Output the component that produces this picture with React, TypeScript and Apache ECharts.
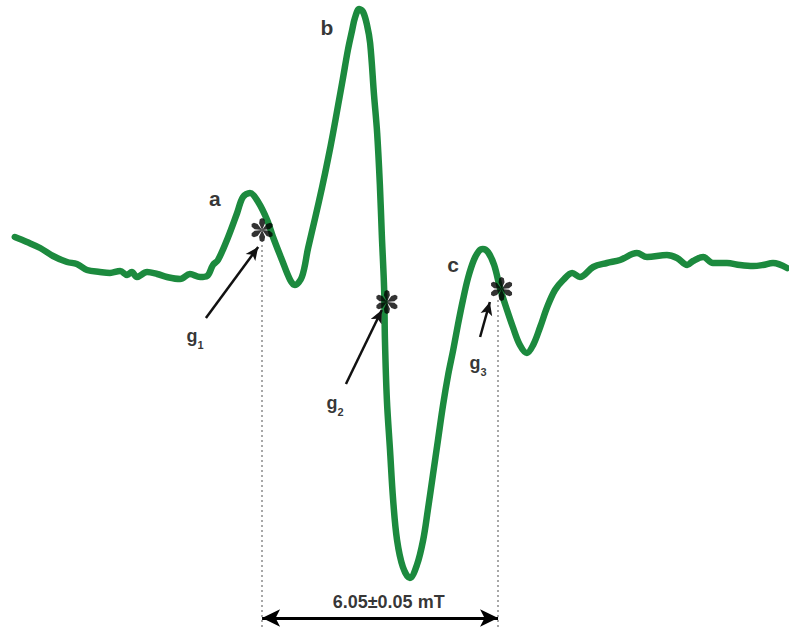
import React, { useEffect, useRef } from "react";
import * as echarts from "echarts";

// Magnetic field (mT, arbitrary origin) and EPR first-derivative intensity (a.u.)
const fieldMT = [
  0.38, 0.69, 1.03, 1.36, 1.72, 1.97, 2.23, 2.56, 2.82, 3.08, 3.26, 3.38, 3.51, 3.77, 4.03, 4.28, 4.62, 4.87,
  5.13, 5.31, 5.46, 5.59, 5.85, 6.08, 6.23, 6.41, 6.62, 6.85, 7.0, 7.23, 7.44, 7.56, 7.74, 7.9, 8.08, 8.26,
  8.41, 8.54, 8.67, 8.79, 8.92, 9.03, 9.1, 9.21, 9.31, 9.41, 9.49, 9.59, 9.67, 9.74, 9.79, 9.85, 9.87,
  9.92, 10.0, 10.08, 10.18, 10.33, 10.51, 10.69, 10.85, 10.97, 11.1, 11.23, 11.36, 11.49, 11.62, 11.74, 11.87,
  12.0, 12.15, 12.28, 12.38, 12.51, 12.67, 12.82, 13.0, 13.15, 13.33, 13.51, 13.67, 13.85, 14.03, 14.23, 14.44,
  14.67, 14.87, 15.21, 15.56, 15.9, 16.33, 16.59, 17.1, 17.36, 17.62, 17.77, 18.03, 18.28, 18.64, 18.97, 19.31,
  19.56, 19.82, 20.18,
];
const intensity = [
  63, 58, 52, 44, 38, 36, 30, 28, 27, 29, 25, 28, 23, 28, 26, 23, 21, 26,
  23, 24, 35, 40, 63, 87, 103, 107, 98, 80, 63, 40, 20, 15, 23, 52, 82, 113,
  141, 167, 195, 221, 250, 270, 282, 291, 288, 275, 257, 205, 167, 115, 65, 10, -40,
  -100, -150, -200, -240, -267, -278, -265, -240, -210, -175, -140, -105, -75, -50, -25, 0,
  22, 40, 49, 51, 48, 35, 12, -10, -27, -45, -53, -45, -27, -7, 10, 20,
  27, 23, 33, 37, 40, 47, 43, 45, 42, 35, 39, 43, 37, 37, 35, 34,
  35, 37, 32,
];

// Peak labels
const peakNames = ["a", "b", "c"];
const peakLabelField = [5.51, 8.38, 11.62];
const peakLabelY = [102, 273, 36];

// g-factor positions (asterisks)
const gIndex = ["1", "2", "3"];
const asteriskField = [6.72, 9.92, 12.86];
const asteriskY = [70, -2, 11];
const gLabelField = [5.0, 8.59, 12.26];
const gLabelY = [-36, -103, -63];
const gArrowTailField = [5.28, 8.87, 12.31];
const gArrowTailY = [-18, -84, -37];
const gArrowHeadField = [6.62, 9.79, 12.56];
const gArrowHeadY = [53, -10, -2];

// Splitting between g1 and g3
const splitStartField = 6.72;
const splitEndField = 12.77;
const splitTopY = [55, 0];
const splittingMT = 6.05;
const splittingErr = 0.05;
const splitArrowY = -318;
const splitTextY = -302;

const xMin = 0;
const xMax = 20.23;
const yMin = -328;
const yMax = 300;

// six tear-drop petals
const asteriskPath =
  "path://" +
  "M0,0 L-2.6,-6 L-2,-9.3 L0,-10.5 L2,-9.3 L2.6,-6 Z " +
  "M0,0 L3.896,-5.252 L7.054,-6.382 L9.093,-5.25 L9.054,-2.918 L6.496,-0.748 Z " +
  "M0,0 L6.496,0.748 L9.054,2.918 L9.093,5.25 L7.054,6.382 L3.896,5.252 Z " +
  "M0,0 L2.6,6 L2,9.3 L0,10.5 L-2,9.3 L-2.6,6 Z " +
  "M0,0 L-3.896,5.252 L-7.054,6.382 L-9.093,5.25 L-9.054,2.918 L-6.496,0.748 Z " +
  "M0,0 L-6.496,-0.748 L-9.054,-2.918 L-9.093,-5.25 L-7.054,-6.382 L-3.896,-5.252 Z";

export default function App() {
  const ref = useRef<HTMLDivElement>(null);

  useEffect(() => {
    if (!ref.current) return;
    const chart = echarts.init(ref.current, undefined, { renderer: "svg" });

    const spectrum = fieldMT.map((x, i) => [x, intensity[i]]);
    const asterisks = asteriskField.map((x, i) => [x, asteriskY[i]]);
    const peakLbls = peakLabelField.map((x, i) => [x, peakLabelY[i], peakNames[i]]);
    const gLbls = gLabelField.map((x, i) => [x, gLabelY[i], gIndex[i]]);

    const font = "'Liberation Sans', Arial, Helvetica, sans-serif";

    const gArrows = gArrowTailField.map((x, i) => [
      {
        coord: [x, gArrowTailY[i]],
        symbol: "none",
        lineStyle: { color: "#111", width: 2.5, type: "solid" },
      },
      {
        coord: [gArrowHeadField[i], gArrowHeadY[i]],
        symbol: "arrow",
        symbolSize: [9, 13],
        lineStyle: { color: "#111", width: 2.5, type: "solid" },
      },
    ]);

    const dotted = [splitStartField, splitEndField].map((x, i) => [
      {
        coord: [x, splitTopY[i]],
        symbol: "none",
        lineStyle: { color: "#8a8a8a", width: 1.5, type: [2, 3] },
      },
      {
        coord: [x, yMin],
        symbol: "none",
        lineStyle: { color: "#8a8a8a", width: 1.5, type: [2, 3] },
      },
    ]);

    const splitArrow = [
      {
        coord: [splitStartField, splitArrowY],
        symbol: "arrow",
        symbolSize: [13, 18],
        lineStyle: { color: "#000", width: 3, type: "solid" },
      },
      {
        coord: [splitEndField, splitArrowY],
        symbol: "arrow",
        symbolSize: [13, 18],
        lineStyle: { color: "#000", width: 3, type: "solid" },
      },
    ];

    chart.setOption({
      animation: false,
      backgroundColor: "#ffffff",
      grid: { left: 0, right: 0, top: 0, bottom: 0, containLabel: false },
      xAxis: { type: "value", min: xMin, max: xMax, show: false },
      yAxis: { type: "value", min: yMin, max: yMax, show: false },
      series: [
        {
          type: "line",
          data: spectrum,
          smooth: 0.35,
          showSymbol: false,
          symbol: "none",
          lineStyle: { color: "#1c8a3e", width: 6.5, cap: "round", join: "round" },
          z: 2,
        },
        {
          type: "scatter",
          data: asterisks,
          symbol: asteriskPath,
          symbolSize: [21, 24],
          itemStyle: { color: "#000" },
          z: 5,
          silent: true,
          markLine: {
            silent: true,
            animation: false,
            label: { show: false },
            data: [...dotted, ...gArrows, splitArrow],
            z: 4,
          },
        },
        {
          type: "scatter",
          data: peakLbls,
          symbolSize: 0,
          silent: true,
          z: 6,
          label: {
            show: true,
            position: [0, 0],
            align: "center",
            verticalAlign: "middle",
            formatter: (p: any) => p.value[2],
            fontFamily: font,
            fontWeight: "bold",
            fontSize: 21,
            color: "#000",
          },
        },
        {
          type: "scatter",
          data: gLbls,
          symbolSize: 0,
          silent: true,
          z: 6,
          label: {
            show: true,
            position: [0, 0],
            align: "center",
            verticalAlign: "middle",
            formatter: (p: any) => `{g|g}{s|${p.value[2]}}`,
            rich: {
              g: { fontFamily: font, fontWeight: "bold", fontSize: 18, color: "#000", lineHeight: 28, verticalAlign: "middle" },
              s: { fontFamily: font, fontWeight: "bold", fontSize: 11, color: "#000", lineHeight: 28, verticalAlign: "bottom" },
            },
          },
        },
        {
          type: "scatter",
          data: [[(splitStartField + splitEndField) / 2 + 0.22, splitTextY]],
          symbolSize: 0,
          silent: true,
          z: 6,
          label: {
            show: true,
            position: [0, 0],
            align: "center",
            verticalAlign: "middle",
            formatter: () => `${splittingMT.toFixed(2)}±${splittingErr.toFixed(2)} mT`,
            fontFamily: font,
            fontWeight: "bold",
            fontSize: 18,
            color: "#000",
          },
        },
      ],
    });

    return () => chart.dispose();
  }, []);

  return (
    <div
      ref={ref}
      style={{ position: "absolute", left: 0, top: 0, width: 789, height: 628, background: "#fff" }}
    />
  );
}
